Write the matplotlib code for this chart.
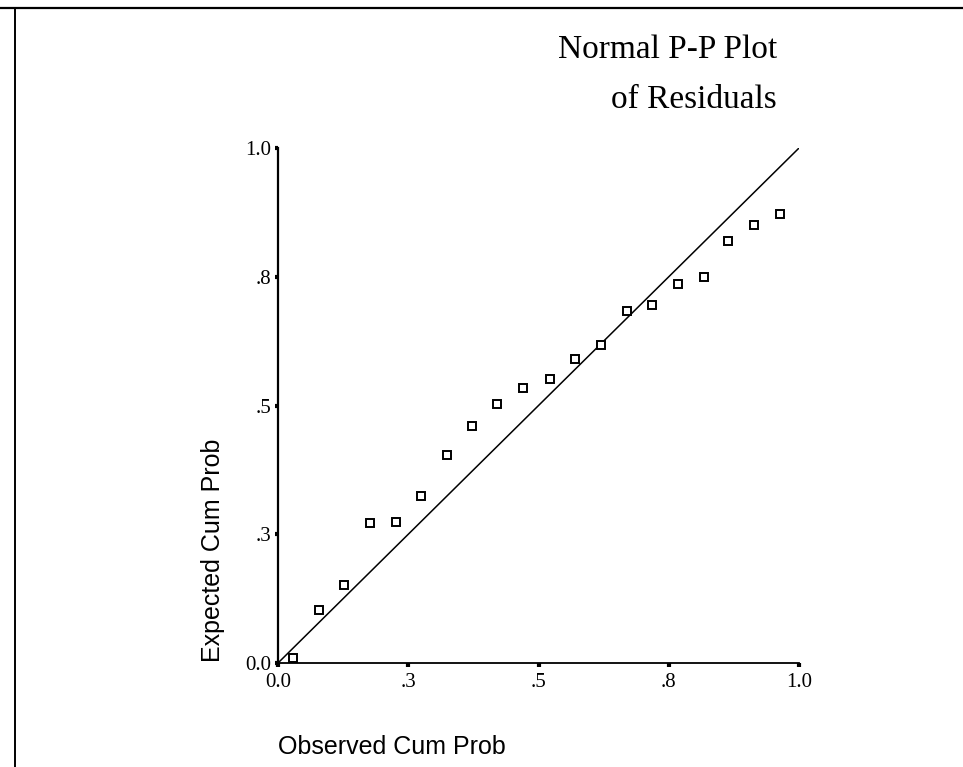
import matplotlib
matplotlib.use("Agg")
import matplotlib.pyplot as plt
from matplotlib.lines import Line2D

# observed vs expected cumulative probabilities
observed = [0.029, 0.079, 0.127, 0.177, 0.226, 0.274, 0.324, 0.372, 0.420, 0.470,
            0.522, 0.570, 0.620, 0.670, 0.718, 0.768, 0.818, 0.864, 0.914, 0.964]
expected = [0.010, 0.103, 0.152, 0.271, 0.273, 0.324, 0.404, 0.460, 0.503, 0.534,
            0.551, 0.590, 0.617, 0.683, 0.695, 0.736, 0.750, 0.820, 0.850, 0.872]
tick_pos = [0.0, 0.25, 0.5, 0.75, 1.0]
tick_labels = ["0.0", ".3", ".5", ".8", "1.0"]

serif = "Liberation Serif"
sans = "Liberation Sans"

fig = plt.figure(figsize=(9.63, 7.67), dpi=100)
ax = fig.add_axes([0.2887, 0.1356, 0.541, 0.6714])

ax.plot([0, 1], [0, 1], color="black", lw=1.1)
ax.plot(observed, expected, ls="none", marker="s", ms=5.5, mfc="white",
        mec="black", mew=1.4)

ax.set_xlim(0, 1)
ax.set_ylim(0, 1)
ax.spines["top"].set_visible(False)
ax.spines["right"].set_visible(False)
ax.spines["left"].set_linewidth(1.6)
ax.spines["bottom"].set_linewidth(1.3)

ax.set_xticks(tick_pos)
ax.set_xticklabels(tick_labels, fontfamily=serif, fontsize=15)
ax.set_yticks(tick_pos)
ax.set_yticklabels(tick_labels, fontfamily=serif, fontsize=15)
ax.tick_params(axis="x", direction="out", length=3, width=3, pad=4)
ax.tick_params(axis="y", direction="out", length=2, width=3, pad=3)

fig.text(0.807, 0.935, "Normal P-P Plot", ha="right", va="center",
         fontfamily=serif, fontsize=24)
fig.text(0.807, 0.870, "of Residuals", ha="right", va="center",
         fontfamily=serif, fontsize=24)

# axis titles justified to the origin
fig.text(0.2887, 0.026, "Observed Cum Prob", ha="left", va="center",
         fontfamily=sans, fontsize=18)
fig.text(0.221, 0.137, "Expected Cum Prob", ha="left", va="center",
         rotation=90, rotation_mode="anchor", fontfamily=sans, fontsize=18)

# page frame: top and left edges only
fig.add_artist(Line2D([0, 1], [1 - 8 / 767, 1 - 8 / 767], color="black", lw=1.6,
                      transform=fig.transFigure))
fig.add_artist(Line2D([15 / 963, 15 / 963], [0, 1 - 8 / 767], color="black", lw=1.4,
                      transform=fig.transFigure))

fig.savefig("out.png", dpi=100)
